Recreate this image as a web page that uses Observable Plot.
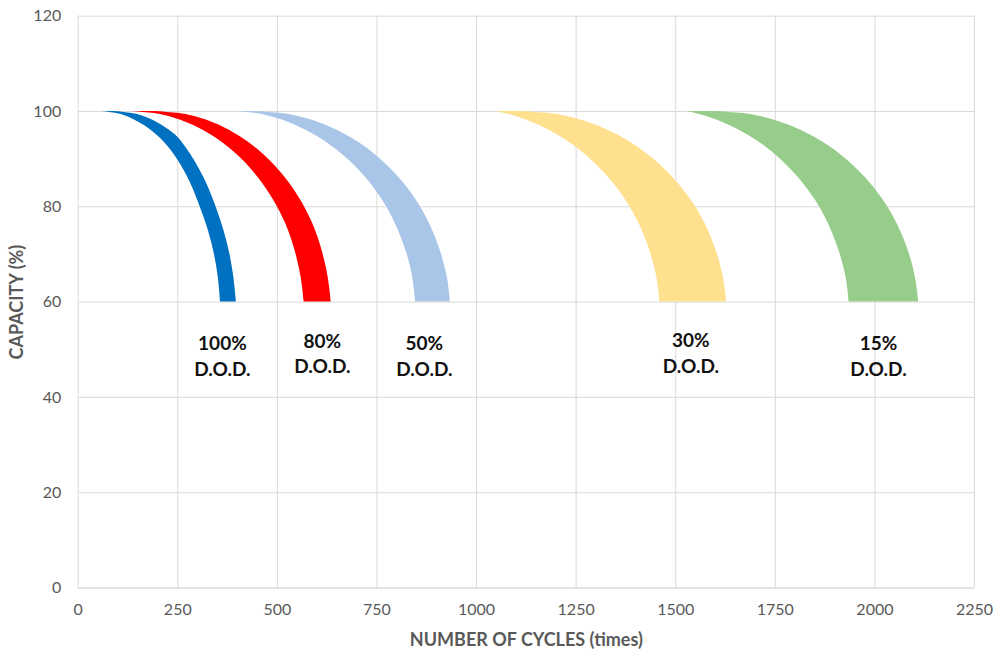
<!DOCTYPE html>
<html>
<head>
<meta charset="utf-8">
<script src="https://cdn.jsdelivr.net/npm/d3@7"></script>
<script src="https://cdn.jsdelivr.net/npm/@observablehq/plot@0.6"></script>
<style>
  html, body { margin: 0; padding: 0; background: #ffffff; }
  #chart { width: 1004px; height: 655px; }
</style>
</head>
<body>
<div id="chart"></div>
<script>
// Capacity levels (%) at which each band's edges were read
const capacity = [100, 99.5, 99, 98, 97, 95, 92.5, 90, 85, 80, 75, 70, 65, 60];

// Number of cycles of the inner (left) and outer (right) edge of each band
const dod100Inner = [60, 102, 121, 146, 167, 198, 227, 249, 282, 306, 327, 342, 352, 357];
const dod100Outer = [92, 142, 163, 191, 212, 245, 270, 290, 322, 346, 366, 381, 391, 397];
const dod80Inner  = [135, 198, 225, 262, 291, 335, 377, 411, 462, 500, 528, 547, 560, 567];
const dod80Outer  = [195, 262, 290, 328, 357, 401, 444, 478, 530, 568, 596, 615, 628, 635];
const dod50Inner  = [402, 455, 480, 519, 548, 595, 640, 677, 733, 774, 804, 826, 840, 847];
const dod50Outer  = [445, 520, 550, 593, 625, 674, 722, 759, 817, 859, 890, 912, 927, 934];
const dod30Inner  = [1047, 1076, 1097, 1131, 1159, 1205, 1250, 1286, 1343, 1385, 1416, 1438, 1453, 1460];
const dod30Outer  = [1115, 1193, 1225, 1270, 1304, 1356, 1405, 1445, 1505, 1550, 1582, 1605, 1620, 1628];
const dod15Inner  = [1529, 1555, 1576, 1609, 1637, 1682, 1727, 1763, 1819, 1861, 1891, 1913, 1928, 1935];
const dod15Outer  = [1600, 1678, 1710, 1754, 1788, 1839, 1889, 1928, 1988, 2032, 2064, 2087, 2102, 2110];

const seriesNames = ["100%", "80%", "50%", "30%", "15%"];
const labelCycles = [362, 613, 869, 1538, 2009];
const labelCapacity = [49.0, 49.5, 49.0, 49.6, 49.0];

const xTicks = [0, 250, 500, 750, 1000, 1250, 1500, 1750, 2000, 2250];
const yTicks = [0, 20, 40, 60, 80, 100, 120];

// Styles
const seriesColors = ["#0070C0", "#FF0000", "#A9C6E9", "#FFE08F", "#97CD8A"];

const inners = [dod100Inner, dod80Inner, dod50Inner, dod30Inner, dod15Inner];
const outers = [dod100Outer, dod80Outer, dod50Outer, dod30Outer, dod15Outer];

const rows = [];
seriesNames.forEach((name, i) => {
  capacity.forEach((c, j) => {
    rows.push({series: name, capacity: c, inner: inners[i][j], outer: outers[i][j]});
  });
});
const labels = seriesNames.map((name, i) => ({name, x: labelCycles[i], y: labelCapacity[i]}));

const chart = Plot.plot({
  width: 1004,
  height: 655,
  marginLeft: 77.7,
  marginRight: 30,
  marginTop: 15.7,
  marginBottom: 67.5,
  style: {fontFamily: "Lato, 'Open Sans', sans-serif", fontSize: "16px", background: "#ffffff"},
  x: {domain: [0, 2250]},
  y: {domain: [0, 120]},
  color: {domain: seriesNames, range: seriesColors},
  marks: [
    Plot.gridX(xTicks, {stroke: "#d9d9d9", strokeOpacity: 1, strokeWidth: 1}),
    Plot.gridY(yTicks.filter(d => d > 0), {stroke: "#d9d9d9", strokeOpacity: 1, strokeWidth: 1}),
    Plot.ruleY([0], {stroke: "#c8c8c8", strokeWidth: 1.2}),
    Plot.areaX(rows, {y: "capacity", x1: "inner", x2: "outer", fill: "series", z: "series", curve: "monotone-y"}),
    Plot.axisX(xTicks, {tickSize: 0, tickPadding: 16, fill: "#595959", fontSize: 16, label: null, tickFormat: d => String(d)}),
    Plot.axisY(yTicks, {tickSize: 0, tickPadding: 17, fill: "#595959", fontSize: 16, label: null, tickFormat: d => String(d)}),
    Plot.text(labels, {x: "x", y: "y", text: d => `${d.name}\nD.O.D.`, fontWeight: "bold", fontSize: 19, lineHeight: 1.35, fill: "#111111"}),
    Plot.text(["NUMBER OF CYCLES (times)"], {frameAnchor: "bottom", dy: 52, textAnchor: "middle", lineAnchor: "middle", fontWeight: "bold", fontSize: 18, fill: "#595959"}),
    Plot.text(["CAPACITY (%)"], {frameAnchor: "left", dx: -61, rotate: -90, textAnchor: "middle", lineAnchor: "middle", fontWeight: "bold", fontSize: 18, fill: "#595959"})
  ]
});
document.getElementById("chart").appendChild(chart);
</script>
</body>
</html>
